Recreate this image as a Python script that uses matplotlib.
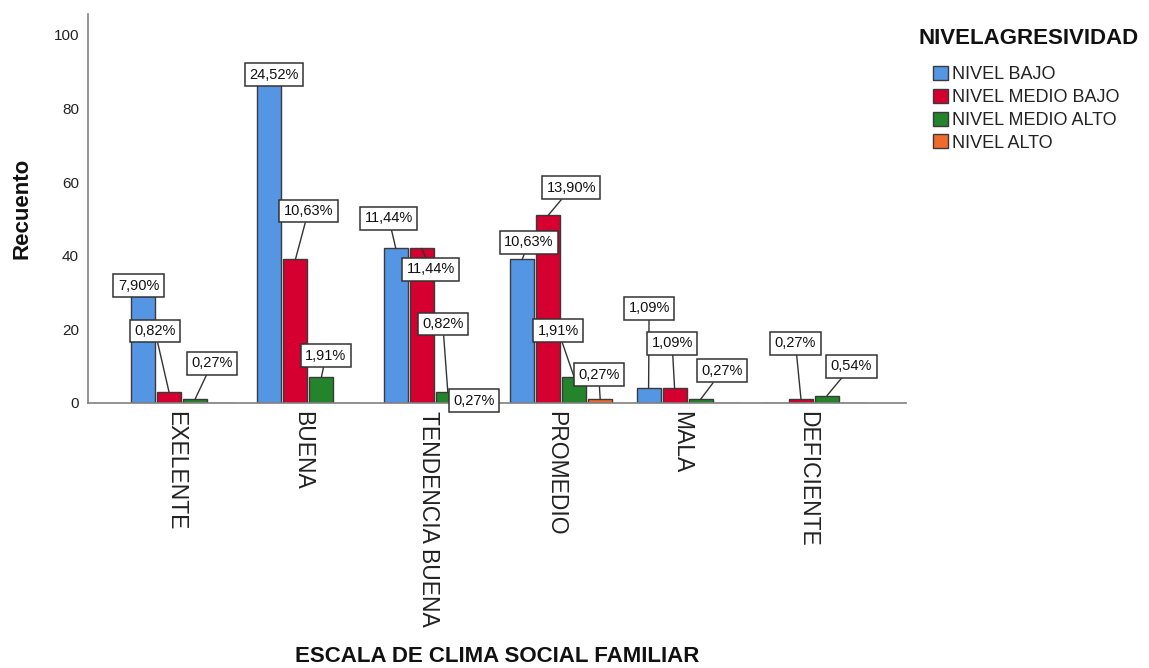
import matplotlib
matplotlib.use("Agg")
import matplotlib.pyplot as plt
from matplotlib.patches import Patch
import matplotlib.transforms as mtransforms
import numpy as np

# ---------------- data ----------------
categories = ["EXELENTE", "BUENA", "TENDENCIA BUENA", "PROMEDIO", "MALA", "DEFICIENTE"]
series_names = ["NIVEL BAJO", "NIVEL MEDIO BAJO", "NIVEL MEDIO ALTO", "NIVEL ALTO"]
nivel_bajo = [29, 90, 42, 39, 4, 0]
nivel_medio_bajo = [3, 39, 42, 51, 4, 1]
nivel_medio_alto = [1, 7, 3, 7, 1, 2]
nivel_alto = [0, 0, 1, 1, 0, 0]
y_ticks = [0, 20, 40, 60, 80, 100]
legend_title = "NIVELAGRESIVIDAD"
x_title = "ESCALA DE CLIMA SOCIAL FAMILIAR"
y_title = "Recuento"

# ---------------- styles / layout ----------------
colors = ["#5596e4", "#d5002f", "#23842b", "#f06a2c"]
# label box offsets (pixels) from each bar top, per series, per category
label_offsets = {
    0: [(-4.5, 10.5), (5, -3), (-7, 30), (6.5, 17), (0.5, 80), None],
    1: [(-14, 61), (13, 48.5), (9, -21), (23, 27.5), (-2.5, 45), (-5.5, 56)],
    2: [(17, 36), (4.5, 21.5), (-5, 68), (-16, 46.5), (21.5, 28.5), (24.5, 29.5)],
    3: [None, None, (0, -1.5), (-1.5, 24.5), None, None],
}

W, H = 1149, 668
fig = plt.figure(figsize=(W / 100, H / 100), dpi=100)
ax = fig.add_axes([88 / W, (H - 403) / H, 818 / W, 389 / H])

series = [nivel_bajo, nivel_medio_bajo, nivel_medio_alto, nivel_alto]
total = sum(sum(s) for s in series)
x = np.arange(len(categories))
slot = 26 / 126.4
bw = 24 / 126.4

for i, (name, vals) in enumerate(zip(series_names, series)):
    xs = x + (i - 1.5) * slot
    ax.bar(xs, vals, width=bw, color=colors[i], edgecolor="#3a3a3a",
           linewidth=1.0, label=name, zorder=2)
    for j, v in enumerate(vals):
        if v <= 0:
            continue
        off = label_offsets[i][j]
        pct = v / total * 100
        txt = f"{pct:.2f}".replace(".", ",") + "%"
        ax.annotate(txt, xy=(xs[j], v), xycoords="data",
                    xytext=off, textcoords="offset pixels",
                    ha="center", va="center", fontsize=10.5,
                    family="Liberation Sans", color="#111111",
                    bbox=dict(boxstyle="square,pad=0.3", fc="white",
                              ec="#333333", lw=1.1),
                    arrowprops=dict(arrowstyle="-", color="#333333", lw=1.0,
                                    shrinkA=0, shrinkB=0),
                    zorder=5)

ax.set_xlim(-94 / 126.4, 724 / 126.4)
ax.set_ylim(0, 105.7)
ax.set_yticks(y_ticks)
ax.set_yticklabels([str(t) for t in y_ticks], fontsize=11, family="Liberation Sans", color="#222222")
ax.set_xticks(x)
ax.set_xticklabels(categories, rotation=270, fontsize=16.5, family="Liberation Sans",
                   color="#222222", va="top", ha="center")
ax.tick_params(axis="y", length=0, pad=6.5)
ax.tick_params(axis="x", length=0, pad=5.5)
shift = mtransforms.ScaledTranslation(-6 / 100, 0, fig.dpi_scale_trans)
for lab in ax.get_xticklabels():
    lab.set_transform(lab.get_transform() + shift)

for s in ["top", "right"]:
    ax.spines[s].set_visible(False)
for s in ["left", "bottom"]:
    ax.spines[s].set_color("#808080")
    ax.spines[s].set_linewidth(1.2)

fig.text(497 / W, (H - 662) / H, x_title, ha="center", va="baseline",
         fontsize=16, fontweight="bold", family="Liberation Sans", color="#111111")
fig.text(22 / W, (H - 208) / H, y_title, ha="center", va="center", rotation=90,
         fontsize=16, fontweight="bold", family="Liberation Sans", color="#111111")
fig.text(918 / W, (H - 44) / H, legend_title, ha="left", va="baseline",
         fontsize=16, fontweight="bold", family="Liberation Sans", color="#111111")

handles = [Patch(facecolor=c, edgecolor="#3a3a3a", linewidth=1.0) for c in colors]
leg = fig.legend(handles, series_names, loc="upper left",
                 bbox_to_anchor=(933 / W, (H - 66) / H), bbox_transform=fig.transFigure,
                 frameon=False, borderpad=0, borderaxespad=0,
                 handlelength=0.83, handleheight=0.83, handletextpad=0.25,
                 labelspacing=0.3, prop={"family": "Liberation Sans", "size": 13})
for t in leg.get_texts():
    t.set_color("#222222")

fig.savefig("out.png", dpi=100)
